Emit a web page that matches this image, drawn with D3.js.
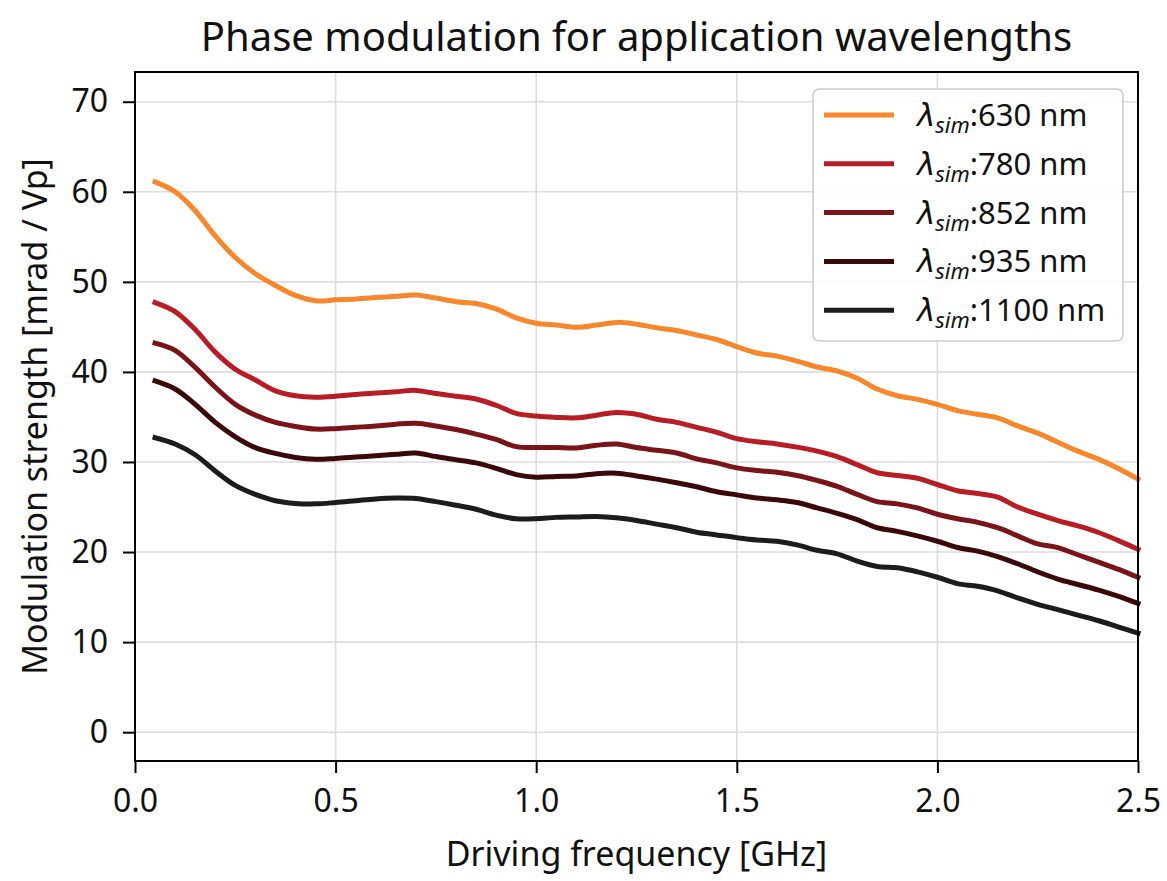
<!DOCTYPE html>
<html>
<head>
<meta charset="utf-8">
<script src="https://cdn.jsdelivr.net/npm/d3@7"></script>
<style>
  body { margin: 0; background: #fff; }
  text { font-family: "Noto Sans", sans-serif; fill: #111; }
</style>
</head>
<body>
<script>
// driving frequency [GHz]
var freq = [0.05, 0.10, 0.15, 0.20, 0.25, 0.30, 0.35, 0.40, 0.45, 0.50,
            0.55, 0.60, 0.65, 0.70, 0.75, 0.80, 0.85, 0.90, 0.95, 1.00,
            1.05, 1.10, 1.15, 1.20, 1.25, 1.30, 1.35, 1.40, 1.45, 1.50,
            1.55, 1.60, 1.65, 1.70, 1.75, 1.80, 1.85, 1.90, 1.95, 2.00,
            2.05, 2.10, 2.15, 2.20, 2.25, 2.30, 2.35, 2.40, 2.45, 2.50];

var wl630 = [61.1, 60.0, 57.9, 55.1, 52.7, 50.9, 49.6, 48.5, 47.9, 48.0,
             48.1, 48.25, 48.4, 48.55, 48.2, 47.8, 47.6, 47.0, 46.0, 45.4,
             45.2, 44.95, 45.2, 45.5, 45.3, 44.9, 44.6, 44.1, 43.6, 42.8,
             42.1, 41.75, 41.2, 40.55, 40.1, 39.3, 38.1, 37.35, 36.95, 36.4,
             35.7, 35.3, 34.9, 34.0, 33.2, 32.2, 31.2, 30.35, 29.3, 28.1];
var wl780 = [47.7, 46.7, 44.7, 42.2, 40.3, 39.1, 37.9, 37.35, 37.2, 37.3,
             37.5, 37.65, 37.8, 37.95, 37.6, 37.3, 37.0, 36.3, 35.4, 35.1,
             34.95, 34.9, 35.2, 35.5, 35.3, 34.75, 34.4, 33.85, 33.3, 32.6,
             32.25, 32.0, 31.65, 31.2, 30.6, 29.7, 28.8, 28.5, 28.2, 27.5,
             26.8, 26.5, 26.1, 25.0, 24.2, 23.5, 22.9, 22.2, 21.3, 20.3];
var wl852 = [43.2, 42.4, 40.5, 38.3, 36.4, 35.2, 34.4, 33.95, 33.65, 33.7,
             33.85, 34.0, 34.2, 34.3, 34.0, 33.6, 33.1, 32.5, 31.7, 31.6,
             31.6, 31.55, 31.85, 32.0, 31.6, 31.3, 31.0, 30.35, 29.9, 29.35,
             29.05, 28.85, 28.5, 27.95, 27.3, 26.4, 25.6, 25.35, 24.9, 24.2,
             23.7, 23.3, 22.7, 21.8, 20.9, 20.5, 19.7, 18.9, 18.1, 17.2];
var wl935 = [39.0, 38.1, 36.4, 34.4, 32.8, 31.6, 30.95, 30.5, 30.3, 30.4,
             30.55, 30.7, 30.85, 31.0, 30.6, 30.25, 29.9, 29.3, 28.6, 28.3,
             28.4, 28.45, 28.7, 28.75, 28.45, 28.1, 27.7, 27.25, 26.7, 26.35,
             26.0, 25.8, 25.5, 24.9, 24.3, 23.6, 22.7, 22.3, 21.8, 21.2,
             20.5, 20.1, 19.5, 18.7, 17.8, 17.0, 16.4, 15.8, 15.1, 14.3];
var wl1100 = [32.7, 32.0, 30.8, 29.0, 27.4, 26.4, 25.7, 25.4, 25.35, 25.5,
              25.7, 25.9, 26.0, 25.95, 25.6, 25.2, 24.75, 24.1, 23.7, 23.7,
              23.85, 23.9, 23.95, 23.8, 23.5, 23.1, 22.7, 22.2, 21.9, 21.6,
              21.35, 21.2, 20.8, 20.2, 19.8, 19.0, 18.4, 18.25, 17.8, 17.2,
              16.5, 16.2, 15.7, 14.9, 14.2, 13.6, 13.0, 12.4, 11.7, 11.0];

var labels = ["630", "780", "852", "935", "1100"];
var colors = ["#f8862a", "#b81d25", "#7a1418", "#3b080a", "#1c1c1c"];
var xTicks = [0.0, 0.5, 1.0, 1.5, 2.0, 2.5];
var yTicks = [0, 10, 20, 30, 40, 50, 60, 70];

var series = [wl630, wl780, wl852, wl935, wl1100];

var width = 1167, height = 881;
var margin = {left: 135, right: 29, top: 72, bottom: 120};

var svg = d3.select("body").append("svg")
    .attr("width", width)
    .attr("height", height);

var x = d3.scaleLinear().domain([0, 2.5]).range([margin.left, width - margin.right]);
var y = d3.scaleLinear().domain([-3.2, 73.3]).range([height - margin.bottom, margin.top]);

// grid
svg.append("g").selectAll("line").data(xTicks).enter().append("line")
    .attr("x1", d => x(d)).attr("x2", d => x(d))
    .attr("y1", y(-3.2)).attr("y2", y(73.3))
    .attr("stroke", "#dcdcdc").attr("stroke-width", 1.6);
svg.append("g").selectAll("line").data(yTicks).enter().append("line")
    .attr("y1", d => y(d)).attr("y2", d => y(d))
    .attr("x1", x(0)).attr("x2", x(2.5))
    .attr("stroke", "#dcdcdc").attr("stroke-width", 1.6);

// lines
var line = d3.line()
    .x((d, i) => x(freq[i]))
    .y(d => y(d))
    .curve(d3.curveCatmullRom);

svg.append("g").selectAll("path").data(series).enter().append("path")
    .attr("d", line)
    .attr("fill", "none")
    .attr("stroke", (d, i) => colors[i])
    .attr("stroke-width", 5)
    .attr("stroke-linecap", "square");

// axes
var xAxis = svg.append("g")
    .attr("transform", "translate(0," + (height - margin.bottom) + ")")
    .call(d3.axisBottom(x).tickValues(xTicks).tickFormat(d3.format(".1f")).tickSize(12).tickPadding(16));
var yAxis = svg.append("g")
    .attr("transform", "translate(" + margin.left + ",0)")
    .call(d3.axisLeft(y).tickValues(yTicks).tickSize(12).tickPadding(15));

[xAxis, yAxis].forEach(function (g) {
    g.select(".domain").remove();
    g.selectAll(".tick line").attr("stroke", "#000").attr("stroke-width", 2);
    g.selectAll(".tick text").attr("font-size", 32).attr("font-family", "Noto Sans").attr("fill", "#111");
});

// frame
svg.append("rect")
    .attr("x", x(0)).attr("y", y(73.3))
    .attr("width", x(2.5) - x(0)).attr("height", y(-3.2) - y(73.3))
    .attr("fill", "none").attr("stroke", "#000").attr("stroke-width", 2);

// title and axis labels
svg.append("text")
    .attr("x", (x(0) + x(2.5)) / 2).attr("y", 51)
    .attr("text-anchor", "middle").attr("font-size", 40)
    .text("Phase modulation for application wavelengths");

svg.append("text")
    .attr("x", (x(0) + x(2.5)) / 2).attr("y", 866)
    .attr("text-anchor", "middle").attr("font-size", 34)
    .text("Driving frequency [GHz]");

svg.append("text")
    .attr("transform", "translate(47," + (y(-3.2) + y(73.3)) / 2 + ") rotate(-90)")
    .attr("text-anchor", "middle").attr("font-size", 34)
    .text("Modulation strength [mrad / Vp]");

// legend
var legend = svg.append("g");
legend.append("rect")
    .attr("x", 813).attr("y", 89).attr("width", 310).attr("height", 252)
    .attr("rx", 6).attr("fill", "#fff").attr("fill-opacity", 0.85)
    .attr("stroke", "#cccccc").attr("stroke-width", 1.6);

var rows = legend.selectAll("g.row").data(labels).enter().append("g")
    .attr("transform", (d, i) => "translate(0," + (115 + i * 48.8) + ")");
rows.append("line")
    .attr("x1", 824).attr("x2", 894)
    .attr("stroke", (d, i) => colors[i]).attr("stroke-width", 5);
var t = rows.append("text")
    .attr("x", 917).attr("y", 11).attr("font-size", 31);
t.append("tspan").attr("font-style", "italic").attr("font-family", "DejaVu Sans").text("λ");
t.append("tspan").attr("font-style", "italic").attr("font-size", 22).attr("dy", 7).text("sim");
t.append("tspan").attr("dy", -7).text(d => ":" + d + " nm");
</script>
</body>
</html>
